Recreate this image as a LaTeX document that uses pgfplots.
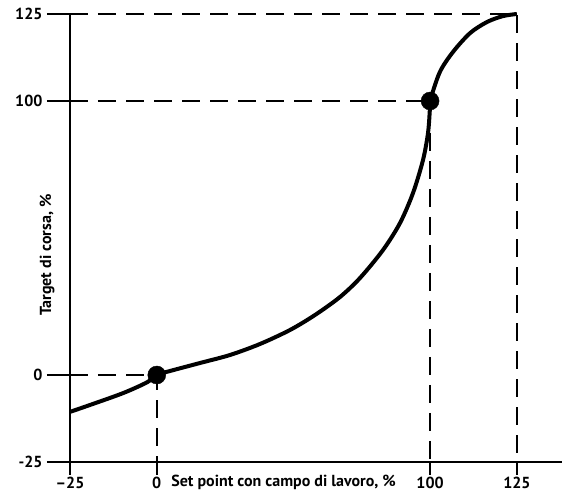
\documentclass[border=0pt]{standalone}
\usepackage{pgfplots}
\pgfplotsset{compat=1.18}
\usepackage{fontspec}
\setmainfont{PT Sans}[BoldFont={PT Sans Bold}]
\newcommand\lblfont{\fontsize{16}{16}\selectfont\bfseries}
\begin{document}
\begin{tikzpicture}[x=1pt,y=1pt]
\path[use as bounding box] (-70,-30) rectangle (495,462);
\begin{axis}[
    at={(0,0)}, anchor=south west,
    scale only axis, width=492pt, height=448pt,
    % outer quarters of both scales are stretched
    x coord trafo/.code={\pgfmathparse{#1+0.27*min(#1,0)+0.27*max(#1-100,0)}},
    y coord trafo/.code={\pgfmathparse{#1+0.27*min(#1,0)+0.27*max(#1-100,0)}},
    xmin=-25, xmax=138, ymin=-25, ymax=125,
    axis x line=bottom, axis y line=left,
    axis line style={-, line width=1.8pt},
    clip=false,
    tick align=outside,
    major tick length=13pt,
    xtick={-25,0,100,125}, ytick={-25,0,100,125},
    xticklabels={–25,0,100,125},
    yticklabels={-25,0,100,125},
    xtick style={line width=1.8pt, black},
    ytick style={line width=1.8pt, black, /pgfplots/major tick length=23pt},
    xticklabel style={font=\lblfont, inner sep=2pt},
    yticklabel style={font=\lblfont, xshift=-11pt},
    xlabel={Set point con campo di lavoro, \%},
    ylabel={Target di corsa, \%},
    xlabel style={font=\lblfont, at={(axis cs:0,-25)}, anchor=north west, xshift=11pt, yshift=-10pt},
    ylabel style={font=\lblfont, at={(rel axis cs:0,0.462)}, anchor=south, yshift=12pt},
]
\addplot[black, line width=1.6pt, dash pattern=on 18pt off 10pt] coordinates {(-25,125) (125,125) (125,-25)};
\addplot[black, line width=1.6pt, dash pattern=on 18pt off 10pt] coordinates {(-25,100) (100,100) (100,-25)};
\addplot[black, line width=1.6pt, dash pattern=on 18pt off 10pt] coordinates {(-25,0) (0,0) (0,-25)};
\addplot[black, line width=4pt, smooth] coordinates {
    (-25,-10.6) (-19.2,-8.6) (-9.7,-5.2) (-2.8,-2.1) (0,0) (4.84,1.46)
    (15.82,4.38) (26.79,7.30) (37.77,11.32) (48.75,16.43) (57.89,21.90)
    (67.04,28.47) (74.36,35.40) (82.78,45.62) (89.0,55.48) (93.75,66.43)
    (97.41,78.47) (99.24,88.32) (99.9,96.7) (100,100)
    (102.8,108.3) (106.6,114.1) (111.5,119.5) (116.4,122.7)
    (121,124.4) (125,125)
};
\addplot[black, only marks, mark=*, mark size=9pt] coordinates {(0,0) (100,100)};
\end{axis}
\end{tikzpicture}
\end{document}
